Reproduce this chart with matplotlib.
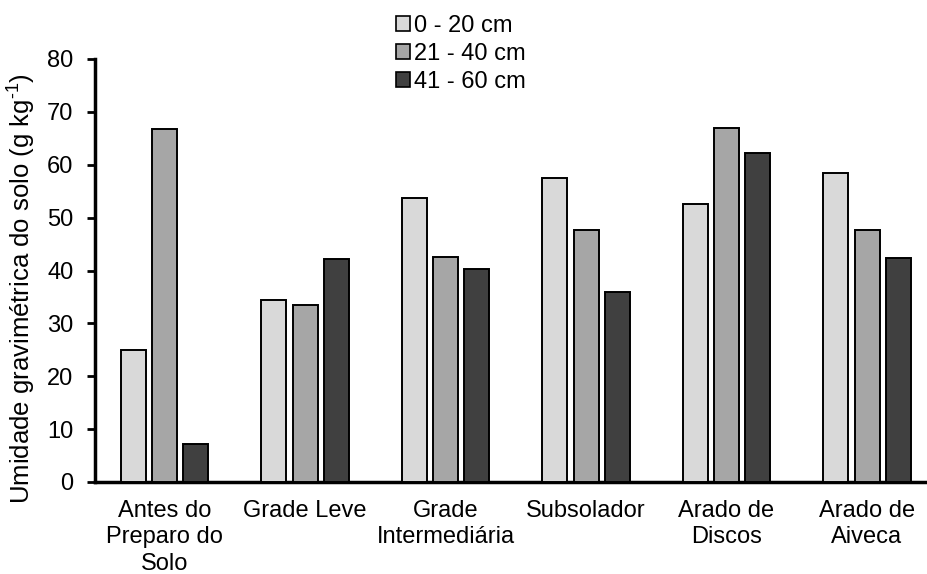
import matplotlib
matplotlib.use("Agg")
import matplotlib.pyplot as plt
import numpy as np

categories = ["Antes do\nPreparo do\nSolo", "Grade Leve", "Grade\nIntermediária",
              "Subsolador", "Arado de\nDiscos", "Arado de\nAiveca"]
series_names = ["0 - 20 cm", "21 - 40 cm", "41 - 60 cm"]
s0_20 = [25.0, 34.5, 53.8, 57.5, 52.5, 58.5]
s21_40 = [66.7, 33.4, 42.5, 47.7, 67.0, 47.6]
s41_60 = [7.1, 42.2, 40.3, 36.0, 62.2, 42.4]
yticks = [0, 10, 20, 30, 40, 50, 60, 70, 80]

colors = ["#D9D9D9", "#A6A6A6", "#404040"]

plt.rcParams['font.family'] = ['Liberation Sans', 'DejaVu Sans']
plt.rcParams['mathtext.fontset'] = 'custom'
plt.rcParams['mathtext.rm'] = 'Liberation Sans'
plt.rcParams['mathtext.it'] = 'Liberation Sans:italic'
plt.rcParams['mathtext.bf'] = 'Liberation Sans:bold'

W, H = 927, 574
fig = plt.figure(figsize=(W/100, H/100), dpi=100)
ax = fig.add_axes([95/W, 1-482/H, 832/W, (482-59)/H])

x = np.arange(len(categories))
w = 0.178
off = 0.221
for i, (vals, name) in enumerate(zip([s0_20, s21_40, s41_60], series_names)):
    ax.bar(x + (i-1)*off, vals, width=w, color=colors[i], edgecolor='black',
           linewidth=1.4, label=name, zorder=3)

ax.set_xlim(-0.495, 5.427)
ax.set_ylim(0, 80)
ax.set_yticks(yticks)
ax.set_xticks(x)
ax.set_xticklabels(categories, fontsize=17, linespacing=1.25)
ax.tick_params(axis='x', length=0, pad=13)
ax.tick_params(axis='y', direction='out', length=5.5, width=2, labelsize=17, pad=10)
for s in ['top', 'right']:
    ax.spines[s].set_visible(False)
for s in ['left', 'bottom']:
    ax.spines[s].set_linewidth(2.5)
ax.set_ylabel("Umidade gravimétrica do solo (g kg$^{\\mathrm{\u20101}}$)", fontsize=18.5)
ax.yaxis.set_label_coords((38.5-95)/832, (482-288.5)/423)

leg = fig.legend(loc='upper left', bbox_to_anchor=(396/W, 1-15/H), frameon=False,
                 fontsize=17, handlelength=0.59, handleheight=0.59, handletextpad=0.17,
                 labelspacing=0.25, borderaxespad=0, borderpad=0)
for p in leg.get_patches():
    p.set_linewidth(1.2)
fig.savefig("out.png", dpi=100)
